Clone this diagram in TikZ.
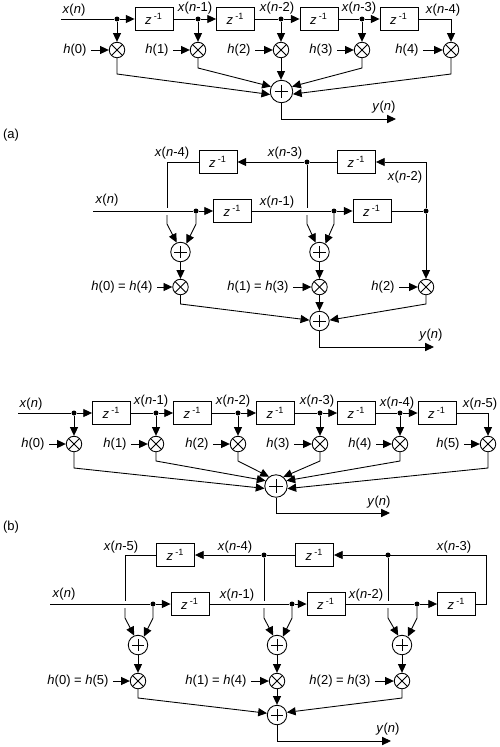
\documentclass[tikz,border=0pt]{standalone}
\usepackage{fontspec}
\setmainfont{Liberation Sans}
\usepackage{xcolor}
\usetikzlibrary{arrows.meta, calc}

\begin{document}
\begin{tikzpicture}[x=0.02cm, y=-0.02cm, line width=0.5pt, font=\fontsize{7.4}{9}\selectfont]
        \tikzset{sig/.style={-{Triangle[length=5pt,width=4.6pt]}}}
        \tikzset{lbl/.style={inner sep=2.5pt}}
        \tikzset{delaybox/.style={draw, minimum width=0.76cm, minimum height=0.46cm, inner sep=0pt}}
        \tikzset{junction/.style={circle, fill=black, minimum size=0.1cm, inner sep=0pt}}
        \tikzset{mul/.style={draw, circle, minimum size=0.31cm, inner sep=0pt, path picture={
            \draw (path picture bounding box.north west) -- (path picture bounding box.south east);
            \draw (path picture bounding box.north east) -- (path picture bounding box.south west);}}}
        \tikzset{adder/.style={draw, circle, minimum size=0.39cm, inner sep=0pt, path picture={
            \draw ($(path picture bounding box.center)!0.62!(path picture bounding box.west)$) -- ($(path picture bounding box.center)!0.62!(path picture bounding box.east)$);
            \draw ($(path picture bounding box.center)!0.62!(path picture bounding box.north)$) -- ($(path picture bounding box.center)!0.62!(path picture bounding box.south)$);}}}
        \tikzset{bigadder/.style={adder, minimum size=0.45cm}}

        \useasboundingbox (0,0) rectangle (500,747);

        \node[delaybox] (fabox1) at (154,19) {\textit{z}\,\textsuperscript{-1}};
        \node[delaybox] (fabox2) at (235.5,19) {\textit{z}\,\textsuperscript{-1}};
        \node[delaybox] (fabox3) at (319,19) {\textit{z}\,\textsuperscript{-1}};
        \node[delaybox] (fabox4) at (399,19) {\textit{z}\,\textsuperscript{-1}};
        \node[junction] (fadot0) at (117,19) {};
        \node[junction] (fadot1) at (198,19) {};
        \node[junction] (fadot2) at (281,19) {};
        \node[junction] (fadot3) at (362,19) {};
        \node[mul] (famul0) at (117,50) {};
        \node[mul] (famul1) at (198,50) {};
        \node[mul] (famul2) at (281,50) {};
        \node[mul] (famul3) at (362,50) {};
        \node[mul] (famul4) at (451,50) {};
        \node[bigadder] (fasum) at (281.5,91.5) {};
        \node[lbl] (fah0) at (75,50) {\textit{h}(0)};
        \node[lbl] (fah1) at (157,50) {\textit{h}(1)};
        \node[lbl] (fah2) at (239,50) {\textit{h}(2)};
        \node[lbl] (fah3) at (321,50) {\textit{h}(3)};
        \node[lbl] (fah4) at (407,50) {\textit{h}(4)};
        \node[lbl] (fax0) at (74,10) {\textit{x}(\textit{n})};
        \node[lbl] (fax1) at (195,8) {\textit{x}(\textit{n}-1)};
        \node[lbl] (fax2) at (277,8) {\textit{x}(\textit{n}-2)};
        \node[lbl] (fax3) at (359,8) {\textit{x}(\textit{n}-3)};
        \node[lbl] (fax4) at (443,10) {\textit{x}(\textit{n}-4)};
        \node[lbl] (fay) at (384,107) {\textit{y}(\textit{n})};
        \node[lbl] (facap) at (11,135) {(a)};
        \coordinate (fain) at (61,19);
        \coordinate (facorner) at (451,19);
        \coordinate (faknee0) at (117,74);
        \coordinate (faknee1) at (198,68);
        \coordinate (faknee3) at (362,68);
        \coordinate (faknee4) at (451,74);
        \coordinate (faout1) at (281.5,119);
        \coordinate (faout2) at (396,119);

        \draw (fain) -- (fadot0);
        \draw[sig] (fadot0) -- (fabox1);
        \draw (fabox1) -- (fadot1);
        \draw[sig] (fadot1) -- (fabox2);
        \draw (fabox2) -- (fadot2);
        \draw[sig] (fadot2) -- (fabox3);
        \draw (fabox3) -- (fadot3);
        \draw[sig] (fadot3) -- (fabox4);
        \draw[sig] (fabox4) -- (facorner) -- (famul4);
        \draw[sig] (fadot0) -- (famul0);
        \draw[sig] (fadot1) -- (famul1);
        \draw[sig] (fadot2) -- (famul2);
        \draw[sig] (fadot3) -- (famul3);
        \draw[sig] (fah0) -- (famul0);
        \draw[sig] (fah1) -- (famul1);
        \draw[sig] (fah2) -- (famul2);
        \draw[sig] (fah3) -- (famul3);
        \draw[sig] (fah4) -- (famul4);
        \draw[sig] (famul0) -- (faknee0) -- (fasum.195);
        \draw[sig] (famul1) -- (faknee1) -- (fasum.155);
        \draw[sig] (famul2) -- (fasum.north -| famul2);
        \draw[sig] (famul3) -- (faknee3) -- (fasum.25);
        \draw[sig] (famul4) -- (faknee4) -- (fasum.-13);
        \draw[sig] (fasum) -- (faout1) -- (faout2);

        \node[delaybox] (sabox1) at (232.5,211) {\textit{z}\,\textsuperscript{-1}};
        \node[delaybox] (sabox2) at (372,211) {\textit{z}\,\textsuperscript{-1}};
        \node[delaybox] (sabox3) at (356.5,162) {\textit{z}\,\textsuperscript{-1}};
        \node[delaybox] (sabox4) at (218,162) {\textit{z}\,\textsuperscript{-1}};
        \node[junction] (sadot0) at (196,211) {};
        \node[junction] (sadot1) at (334,211) {};
        \node[junction] (sadot2) at (426,211) {};
        \node[junction] (sadot3) at (307,162) {};
        \node[adder] (saadd0) at (180.5,252) {};
        \node[adder] (saadd1) at (319.5,252) {};
        \node[mul] (samul0) at (180.5,287) {};
        \node[mul] (samul1) at (319.5,287) {};
        \node[mul] (samul2) at (426,287) {};
        \node[adder] (sasum) at (319.5,321) {};
        \node[lbl] (sah0) at (122,287) {\textit{h}(0) = \textit{h}(4)};
        \node[lbl] (sah1) at (258,287) {\textit{h}(1) = \textit{h}(3)};
        \node[lbl] (sah2) at (383,287) {\textit{h}(2)};
        \node[lbl] (sax0) at (107,200) {\textit{x}(\textit{n})};
        \node[lbl] (sax1) at (277,202) {\textit{x}(\textit{n}-1)};
        \node[lbl] (sax2) at (405,177) {\textit{x}(\textit{n}-2)};
        \node[lbl] (sax3) at (285,153) {\textit{x}(\textit{n}-3)};
        \node[lbl] (sax4) at (172,153) {\textit{x}(\textit{n}-4)};
        \node[lbl] (say) at (431,335) {\textit{y}(\textit{n})};
        \coordinate (sain) at (93,211);
        \coordinate (sacorner) at (426,162);
        \coordinate (saup0) at (167,162);
        \coordinate (sagap0a) at (167,208);
        \coordinate (sagap0b) at (167,215);
        \coordinate (saknee0) at (167,224);
        \coordinate (saknee0r) at (196,224);
        \coordinate (sagap1a) at (307,208);
        \coordinate (sagap1b) at (307,215);
        \coordinate (saknee1) at (307,224);
        \coordinate (saknee1r) at (334,224);
        \coordinate (samid0) at (180.5,304);
        \coordinate (samid2) at (426,304);
        \coordinate (saout1) at (319.5,347);
        \coordinate (saout2) at (434,347);

        \draw (sain) -- (sadot0);
        \draw[sig] (sadot0) -- (sabox1);
        \draw (sabox1) -- (sadot1);
        \draw[sig] (sadot1) -- (sabox2);
        \draw (sabox2) -- (sadot2);
        \draw[sig] (sadot2) -- (sacorner) -- (sabox3);
        \draw (sabox3) -- (sadot3);
        \draw[sig] (sadot3) -- (sabox4);
        \draw (sabox4) -- (saup0) -- (sagap0a);
        \draw[sig] (sagap0b) -- (saknee0) -- (saadd0.112);
        \draw[sig] (sadot0) -- (saknee0r) -- (saadd0.55);
        \draw (sadot3) -- (sagap1a);
        \draw[sig] (sagap1b) -- (saknee1) -- (saadd1.112);
        \draw[sig] (sadot1) -- (saknee1r) -- (saadd1.55);
        \draw[sig] (saadd0) -- (samul0);
        \draw[sig] (saadd1) -- (samul1);
        \draw[sig] (sadot2) -- (samul2);
        \draw[sig] (sah0) -- (samul0);
        \draw[sig] (sah1) -- (samul1);
        \draw[sig] (sah2) -- (samul2);
        \draw[sig] (samul0) -- (samid0) -- (sasum.175);
        \draw[sig] (samul1) -- (sasum);
        \draw[sig] (samul2) -- (samid2) -- (sasum.5);
        \draw[sig] (sasum) -- (saout1) -- (saout2);

        \node[delaybox] (fbbox1) at (111.5,413) {\textit{z}\,\textsuperscript{-1}};
        \node[delaybox] (fbbox2) at (192.5,413) {\textit{z}\,\textsuperscript{-1}};
        \node[delaybox] (fbbox3) at (275.5,413) {\textit{z}\,\textsuperscript{-1}};
        \node[delaybox] (fbbox4) at (356.5,413) {\textit{z}\,\textsuperscript{-1}};
        \node[delaybox] (fbbox5) at (437,413) {\textit{z}\,\textsuperscript{-1}};
        \node[junction] (fbdot0) at (74,413) {};
        \node[junction] (fbdot1) at (156,413) {};
        \node[junction] (fbdot2) at (238,413) {};
        \node[junction] (fbdot3) at (320,413) {};
        \node[junction] (fbdot4) at (400,413) {};
        \node[mul] (fbmul0) at (74,444) {};
        \node[mul] (fbmul1) at (156,444) {};
        \node[mul] (fbmul2) at (238,444) {};
        \node[mul] (fbmul3) at (320,444) {};
        \node[mul] (fbmul4) at (400,444) {};
        \node[mul] (fbmul5) at (488,444) {};
        \node[bigadder] (fbsum) at (276,486) {};
        \node[lbl] (fbh0) at (33,444) {\textit{h}(0)};
        \node[lbl] (fbh1) at (115,444) {\textit{h}(1)};
        \node[lbl] (fbh2) at (197,444) {\textit{h}(2)};
        \node[lbl] (fbh3) at (278,444) {\textit{h}(3)};
        \node[lbl] (fbh4) at (360,444) {\textit{h}(4)};
        \node[lbl] (fbh5) at (448,444) {\textit{h}(5)};
        \node[lbl] (fbx0) at (31,404) {\textit{x}(\textit{n})};
        \node[lbl] (fbx1) at (151,401) {\textit{x}(\textit{n}-1)};
        \node[lbl] (fbx2) at (233,401) {\textit{x}(\textit{n}-2)};
        \node[lbl] (fbx3) at (317,401) {\textit{x}(\textit{n}-3)};
        \node[lbl] (fbx4) at (397,403) {\textit{x}(\textit{n}-4)};
        \node[lbl] (fbx5) at (480,404) {\textit{x}(\textit{n}-5)};
        \node[lbl] (fby) at (379,502) {\textit{y}(\textit{n})};
        \node[lbl] (fbcap) at (11,527) {(b)};
        \coordinate (fbin) at (18,413);
        \coordinate (fbcorner) at (488,413);
        \coordinate (fbknee0) at (74,468);
        \coordinate (fbknee1) at (156,461);
        \coordinate (fbknee2) at (238,461);
        \coordinate (fbknee3) at (320,461);
        \coordinate (fbknee4) at (400,461);
        \coordinate (fbknee5) at (488,468);
        \coordinate (fbout1) at (276,513);
        \coordinate (fbout2) at (390,513);

        \draw (fbin) -- (fbdot0);
        \draw[sig] (fbdot0) -- (fbbox1);
        \draw (fbbox1) -- (fbdot1);
        \draw[sig] (fbdot1) -- (fbbox2);
        \draw (fbbox2) -- (fbdot2);
        \draw[sig] (fbdot2) -- (fbbox3);
        \draw (fbbox3) -- (fbdot3);
        \draw[sig] (fbdot3) -- (fbbox4);
        \draw (fbbox4) -- (fbdot4);
        \draw[sig] (fbdot4) -- (fbbox5);
        \draw[sig] (fbbox5) -- (fbcorner) -- (fbmul5);
        \draw[sig] (fbdot0) -- (fbmul0);
        \draw[sig] (fbdot1) -- (fbmul1);
        \draw[sig] (fbdot2) -- (fbmul2);
        \draw[sig] (fbdot3) -- (fbmul3);
        \draw[sig] (fbdot4) -- (fbmul4);
        \draw[sig] (fbh0) -- (fbmul0);
        \draw[sig] (fbh1) -- (fbmul1);
        \draw[sig] (fbh2) -- (fbmul2);
        \draw[sig] (fbh3) -- (fbmul3);
        \draw[sig] (fbh4) -- (fbmul4);
        \draw[sig] (fbh5) -- (fbmul5);
        \draw[sig] (fbmul0) -- (fbknee0) -- (fbsum.192);
        \draw[sig] (fbmul1) -- (fbknee1) -- (fbsum.153);
        \draw[sig] (fbmul2) -- (fbknee2) -- (fbsum.127);
        \draw[sig] (fbmul3) -- (fbknee3) -- (fbsum.51);
        \draw[sig] (fbmul4) -- (fbknee4) -- (fbsum.27);
        \draw[sig] (fbmul5) -- (fbknee5) -- (fbsum.-13);
        \draw[sig] (fbsum) -- (fbout1) -- (fbout2);

        \node[delaybox] (sbbox1) at (190,604) {\textit{z}\,\textsuperscript{-1}};
        \node[delaybox] (sbbox2) at (326,604) {\textit{z}\,\textsuperscript{-1}};
        \node[delaybox] (sbbox3) at (456.5,604) {\textit{z}\,\textsuperscript{-1}};
        \node[delaybox] (sbbox4) at (314.5,555) {\textit{z}\,\textsuperscript{-1}};
        \node[delaybox] (sbbox5) at (175.5,555) {\textit{z}\,\textsuperscript{-1}};
        \node[junction] (sbdot0) at (153,604) {};
        \node[junction] (sbdot1) at (292,604) {};
        \node[junction] (sbdot2) at (417,604) {};
        \node[junction] (sbdot3) at (388,555) {};
        \node[junction] (sbdot4) at (264,555) {};
        \node[adder] (sbadd0) at (138,645) {};
        \node[adder] (sbadd1) at (277,645) {};
        \node[adder] (sbadd2) at (402,645) {};
        \node[mul] (sbmul0) at (138,681) {};
        \node[mul] (sbmul1) at (277,681) {};
        \node[mul] (sbmul2) at (402,681) {};
        \node[adder] (sbsum) at (277,715) {};
        \node[lbl] (sbh0) at (78,681) {\textit{h}(0) = \textit{h}(5)};
        \node[lbl] (sbh1) at (216,681) {\textit{h}(1) = \textit{h}(4)};
        \node[lbl] (sbh2) at (340,681) {\textit{h}(2) = \textit{h}(3)};
        \node[lbl] (sbx0) at (64,594) {\textit{x}(\textit{n})};
        \node[lbl] (sbx1) at (237,595) {\textit{x}(\textit{n}-1)};
        \node[lbl] (sbx2) at (366,595) {\textit{x}(\textit{n}-2)};
        \node[lbl] (sbx3) at (454,547) {\textit{x}(\textit{n}-3)};
        \node[lbl] (sbx4) at (235,547) {\textit{x}(\textit{n}-4)};
        \node[lbl] (sbx5) at (121,547) {\textit{x}(\textit{n}-5)};
        \node[lbl] (sby) at (388,729) {\textit{y}(\textit{n})};
        \coordinate (sbin) at (50,604);
        \coordinate (sbcorner1) at (486,604);
        \coordinate (sbcorner2) at (486,555);
        \coordinate (sbup0) at (125,555);
        \coordinate (sbgap0a) at (125,601);
        \coordinate (sbgap0b) at (125,608);
        \coordinate (sbknee0) at (125,618);
        \coordinate (sbknee0r) at (153,618);
        \coordinate (sbgap1a) at (264,601);
        \coordinate (sbgap1b) at (264,608);
        \coordinate (sbknee1) at (264,618);
        \coordinate (sbknee1r) at (292,618);
        \coordinate (sbgap2a) at (388,601);
        \coordinate (sbgap2b) at (388,608);
        \coordinate (sbknee2) at (388,618);
        \coordinate (sbknee2r) at (417,618);
        \coordinate (sbmid0) at (138,698);
        \coordinate (sbmid2) at (402,698);
        \coordinate (sbout1) at (277,741);
        \coordinate (sbout2) at (391,741);

        \draw (sbin) -- (sbdot0);
        \draw[sig] (sbdot0) -- (sbbox1);
        \draw (sbbox1) -- (sbdot1);
        \draw[sig] (sbdot1) -- (sbbox2);
        \draw (sbbox2) -- (sbdot2);
        \draw[sig] (sbdot2) -- (sbbox3);
        \draw[sig] (sbbox3) -- (sbcorner1) -- (sbcorner2) -- (sbbox4);
        \draw (sbbox4) -- (sbdot4);
        \draw[sig] (sbdot4) -- (sbbox5);
        \draw (sbbox5) -- (sbup0) -- (sbgap0a);
        \draw[sig] (sbgap0b) -- (sbknee0) -- (sbadd0.112);
        \draw[sig] (sbdot0) -- (sbknee0r) -- (sbadd0.55);
        \draw (sbdot4) -- (sbgap1a);
        \draw[sig] (sbgap1b) -- (sbknee1) -- (sbadd1.112);
        \draw[sig] (sbdot1) -- (sbknee1r) -- (sbadd1.55);
        \draw (sbdot3) -- (sbgap2a);
        \draw[sig] (sbgap2b) -- (sbknee2) -- (sbadd2.112);
        \draw[sig] (sbdot2) -- (sbknee2r) -- (sbadd2.55);
        \draw[sig] (sbadd0) -- (sbmul0);
        \draw[sig] (sbadd1) -- (sbmul1);
        \draw[sig] (sbadd2) -- (sbmul2);
        \draw[sig] (sbh0) -- (sbmul0);
        \draw[sig] (sbh1) -- (sbmul1);
        \draw[sig] (sbh2) -- (sbmul2);
        \draw[sig] (sbmul0) -- (sbmid0) -- (sbsum.170);
        \draw[sig] (sbmul1) -- (sbsum);
        \draw[sig] (sbmul2) -- (sbmid2) -- (sbsum.15);
        \draw[sig] (sbsum) -- (sbout1) -- (sbout2);
    \end{tikzpicture}
\end{document}
